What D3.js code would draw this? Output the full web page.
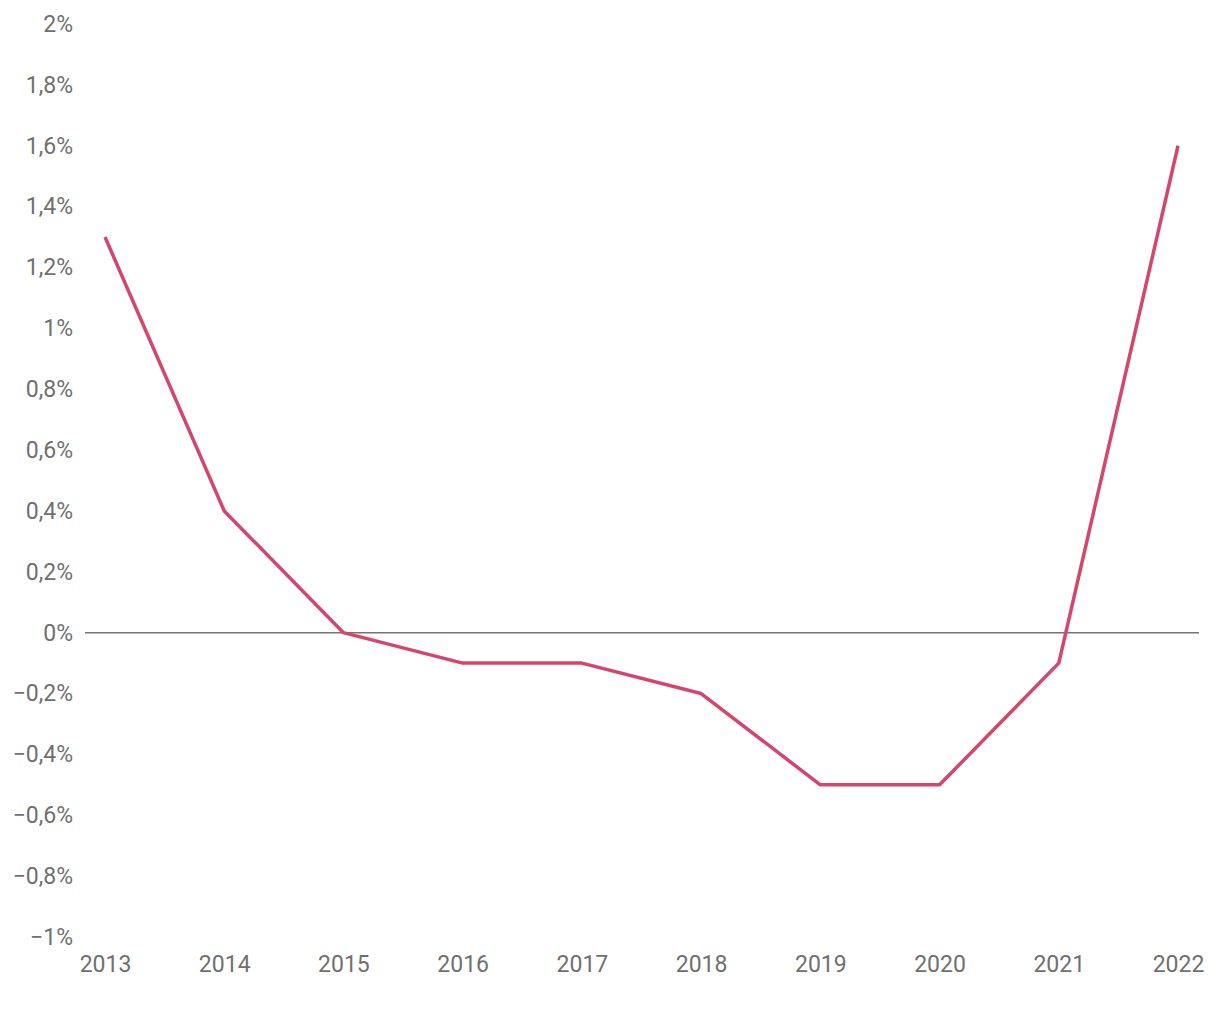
<!DOCTYPE html>
<html><head><meta charset="utf-8">
<script src="https://cdn.jsdelivr.net/npm/d3@7"></script>
<style>body{margin:0;background:#fff}svg text{font-family:Roboto,sans-serif}</style>
</head><body><svg id="c" width="1220" height="1020"></svg>
<script>
const years = [2013,2014,2015,2016,2017,2018,2019,2020,2021,2022];
const values = [1.3,0.4,0,-0.1,-0.1,-0.2,-0.5,-0.5,-0.1,1.6];
const yTicks = [-1,-0.8,-0.6,-0.4,-0.2,0,0.2,0.4,0.6,0.8,1,1.2,1.4,1.6,1.8,2];

const svg = d3.select("#c");
const x = d3.scalePoint().domain(years).range([105,1178]);
const y = d3.scaleLinear().domain([-1,2]).range([937,24]);
const fmt = v => (v<0?"\u2212":"") + String(Math.abs(Math.round(v*10)/10)).replace(".",",") + "%";

const yAxis = d3.axisLeft(y).tickValues(yTicks).tickSize(0).tickPadding(0).tickFormat(fmt);
const gy = svg.append("g").attr("transform","translate(73,0)").call(yAxis);
gy.select(".domain").remove();
gy.selectAll("text").attr("fill","#707070").style("font-size","23px");

const xAxis = d3.axisBottom(x).tickSize(0).tickPadding(0).tickFormat(d=>String(d));
const gx = svg.append("g").attr("transform","translate(0,956)").call(xAxis);
gx.select(".domain").remove();
gx.selectAll("text").attr("fill","#707070").style("font-size","23px");

svg.append("line").attr("x1",85).attr("x2",1199).attr("y1",y(0)).attr("y2",y(0))
  .attr("stroke","#757575").attr("stroke-width",1.5);

const line = d3.line().x((d,i)=>x(years[i])).y(d=>y(d));
svg.append("path").datum(values).attr("d",line).attr("fill","none")
  .attr("stroke","#d6456b").attr("stroke-width",3.5).attr("stroke-linejoin","round");
</script></body></html>
